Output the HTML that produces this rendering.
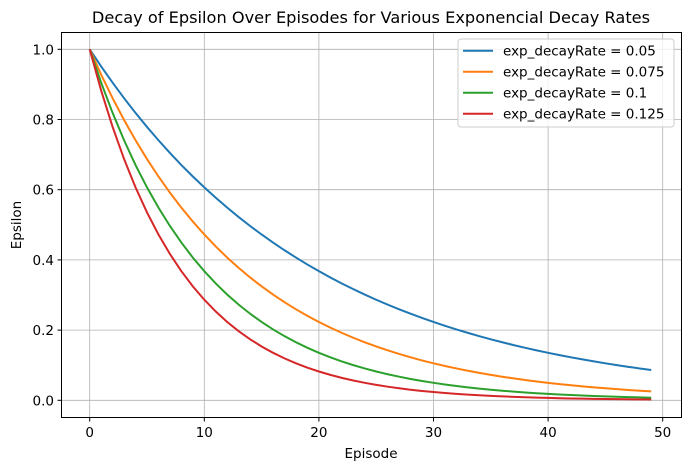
<!DOCTYPE html>
<html><head><meta charset="utf-8"><style>
body{margin:0;background:#fff;}
svg{font-family:"DejaVu Sans","Liberation Sans",sans-serif;}
</style></head><body>
<svg id="c" width="691" height="470">
<text x="371" y="23" font-size="16.2" text-anchor="middle">Decay of Epsilon Over Episodes for Various Exponencial Decay Rates</text>
<text x="371" y="458" font-size="13.5" text-anchor="middle">Episode</text>
<text x="21" y="225" font-size="13.5" text-anchor="middle" transform="rotate(-90 21 225)">Epsilon</text>
<g id="grid"></g><g id="series"></g><g id="ticks"></g>
<rect x="61.5" y="32.5" width="620" height="385" fill="none" stroke="#000" stroke-width="1"/>
<g id="legend"></g>
</svg>
<script>
const rates=[0.05,0.075,0.1,0.125];
const labels=["exp_decayRate = 0.05","exp_decayRate = 0.075","exp_decayRate = 0.1","exp_decayRate = 0.125"];
const colors=["#1f77b4","#ff7f0e","#2ca02c","#d62728"];
const numEpisodes=50;
const xTicks=[0,10,20,30,40,50];
const yTicks=[0.0,0.2,0.4,0.6,0.8,1.0];
const NS="http://www.w3.org/2000/svg";
const X=v=>89.7+v*11.46, Y=v=>400.3-v*351;
function mk(t,a,p){const e=document.createElementNS(NS,t);for(const k in a)e.setAttribute(k,a[k]);p.appendChild(e);return e;}
const grid=document.getElementById('grid'),ticks=document.getElementById('ticks'),ser=document.getElementById('series'),leg=document.getElementById('legend');
xTicks.forEach(t=>{
 const g=mk('line',{x1:X(t),x2:X(t),y1:32.5,y2:417.5,stroke:'#b0b0b0','stroke-width':0.8},grid);
 
 
 mk('line',{x1:X(t),x2:X(t),y1:417.5,y2:421.5,stroke:'#000'},ticks);
 const tx=mk('text',{x:X(t),y:437,'font-size':13.5,'text-anchor':'middle'},ticks);tx.textContent=t;
 
 
});
yTicks.forEach(t=>{
 const g=mk('line',{x1:61.5,x2:681.5,y1:Y(t),y2:Y(t),stroke:'#b0b0b0','stroke-width':0.8},grid);
 
 
 mk('line',{x1:57.5,x2:61.5,y1:Y(t),y2:Y(t),stroke:'#000'},ticks);
 const tx=mk('text',{x:54,y:Y(t)+5,'font-size':13.5,'text-anchor':'end'},ticks);tx.textContent=t.toFixed(1);
 
 
});
rates.forEach((r,i)=>{
 let pts=[];for(let e=0;e<numEpisodes;e++)pts.push(X(e).toFixed(2)+','+Y(Math.exp(-r*e)).toFixed(2));
 const p=mk('polyline',{points:pts.join(' '),fill:'none',stroke:colors[i],'stroke-width':2},ser);
 
 
});
const lb=mk('rect',{x:458,y:39,width:216,height:88,rx:3,fill:'#fff','fill-opacity':0.8,stroke:'#ccc'},leg);


labels.forEach((l,i)=>{
 const y=50.7+i*21;
 mk('line',{x1:463,x2:493,y1:y,y2:y,stroke:colors[i],'stroke-width':2},leg);
 const t=mk('text',{x:503,y:y+5,'font-size':13.5},leg);t.textContent=l;
 
 
});
</script>
</body></html>
